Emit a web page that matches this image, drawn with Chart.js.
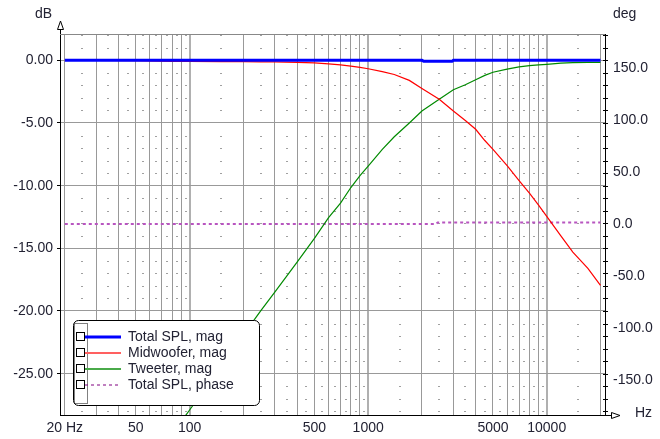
<!doctype html>
<html>
<head>
    <meta charset="utf-8">
    <title>Crossover response</title>
    <script src="https://cdn.jsdelivr.net/npm/chart.js"></script>
    <style>
        html, body { margin: 0; padding: 0; background: #fff; }
    </style>
</head>
<body>
    <canvas id="myChart" width="660" height="439"></canvas>

    <script>
        // x axis: gridline frequencies and labelled ones
        var gridFreqs = [20, 30, 40, 50, 60, 70, 80, 90, 100, 200, 300, 400, 500, 600, 700, 800, 900,
                         1000, 2000, 3000, 4000, 5000, 6000, 7000, 8000, 9000, 10000, 20000];
        var labeledFreqs = [20, 50, 100, 500, 1000, 5000, 10000];
        var freqTickLabels = ['20 Hz', '50', '100', '500', '1000', '5000', '10000'];
        var dbTicks = [0, -5, -10, -15, -20, -25];
        var degTicks = [150, 100, 50, 0, -50, -100, -150];

        // driver responses (Hz / dB)
        var freqs = [20, 30, 50, 80, 100, 150, 200, 250, 300, 400, 500, 600, 700, 800, 900, 1000,
                     1200, 1400, 1700, 2000, 2500, 3000, 3500, 4000, 4500, 5000, 6000, 7000, 8000,
                     9000, 10000, 12000, 14000, 17000, 20000];
        var midwooferMag = [0, 0, -0.03, -0.08, -0.09, -0.1, -0.11, -0.12, -0.13, -0.16, -0.2, -0.28,
                            -0.37, -0.46, -0.56, -0.67, -0.9, -1.13, -1.6, -2.25, -3.1, -4.05, -4.8,
                            -5.5, -6.4, -7.1, -8.4, -9.6, -10.6, -11.55, -12.45, -14.0, -15.3, -16.6, -17.95];
        var tweeterMag = [null, null, null, -29.8, -27.9, -24.4, -21.9, -20.0, -18.5, -16.1, -14.2, -12.55,
                          -11.4, -10.15, -9.2, -8.45, -7.1, -6.1, -5.0, -4.05, -3.1, -2.35, -1.95,
                          -1.55, -1.2, -0.95, -0.7, -0.52, -0.43, -0.37, -0.32, -0.22, -0.19, -0.17, -0.16];

        // total response
        var splFreqs = [20, 2000, 2050, 2950, 3000, 20000];
        var splMag = [0, 0, -0.08, -0.08, 0, 0];
        var phaseFreqs = [20, 2400, 2450, 20000];
        var splPhase = [0, 0, 1.5, 1.5];

        function pts(xs, ys) {
            return xs.map(function (x, i) { return {x: x, y: ys[i]}; });
        }

        var FONT = {family: "'Liberation Sans', Arial, sans-serif", size: 14};
        var TXT = '#222233';

        // minor dots between gridlines, every 1 dB
        var overlay = {
            id: 'overlay',
            beforeDatasetsDraw: function (chart) {
                var c = chart.ctx, a = chart.chartArea;
                var xs = chart.scales.x, ys = chart.scales.y;
                c.save();
                c.fillStyle = '#a0a0a0';
                for (var i = 0; i < gridFreqs.length - 1; i++) {
                    var mid = (gridFreqs[i] + gridFreqs[i + 1]) / 2;
                    var px = Math.round(xs.getPixelForValue(mid));
                    for (var d = -28; d <= 2; d++) {
                        if (d % 5 === 0) continue;
                        var py = Math.round(ys.getPixelForValue(d));
                        c.fillRect(px - 1, py, 2, 1);
                    }
                }
                // top border
                c.strokeStyle = '#888';
                c.lineWidth = 1;
                c.beginPath();
                c.moveTo(a.left, a.top + 0.5);
                c.lineTo(a.right, a.top + 0.5);
                c.stroke();
                c.restore();
            },
            afterDraw: function (chart) {
                var c = chart.ctx, a = chart.chartArea;
                var ys = chart.scales.y;
                c.save();
                c.strokeStyle = '#000';
                c.lineWidth = 1;
                // left axis arrow
                var lx = a.left + 0.5;
                c.beginPath();
                c.moveTo(lx, a.top);
                c.lineTo(lx, 29);
                c.moveTo(lx, 21);
                c.lineTo(lx - 3, 29.5);
                c.lineTo(lx + 3, 29.5);
                c.closePath();
                c.stroke();
                // bottom axis arrow
                var by = a.bottom + 0.5;
                c.beginPath();
                c.moveTo(a.right, by);
                c.lineTo(612, by);
                c.moveTo(620, by);
                c.lineTo(611.5, by - 3);
                c.lineTo(611.5, by + 3);
                c.closePath();
                c.stroke();
                // right axis small ticks
                c.beginPath();
                for (var d = -28; d <= 2; d++) {
                    var py = Math.round(ys.getPixelForValue(d)) + 0.5;
                    c.moveTo(a.right - 2, py);
                    c.lineTo(a.right + 3, py);
                }
                c.stroke();

                // axis titles
                c.fillStyle = TXT;
                c.font = FONT.size + 'px ' + FONT.family;
                c.textBaseline = 'middle';
                c.textAlign = 'left';
                c.fillText('dB', 35, 14);
                c.fillText('deg', 613, 14);
                c.fillText('Hz', 635, 413);

                // legend box
                var bx = 73.5, bt = 320.5, bw = 186, bh = 85;
                c.beginPath();
                c.roundRect(bx, bt, bw, bh, 5);
                c.fillStyle = '#fff';
                c.fill();
                c.strokeStyle = '#000';
                c.stroke();
                c.setLineDash([1, 1]);
                c.strokeRect(74.5, 323.5, 13, 80);
                c.setLineDash([]);
                chart.data.datasets.forEach(function (ds, i) {
                    var cy = 337 + i * 16;
                    c.strokeStyle = '#000';
                    c.lineWidth = 1;
                    c.strokeRect(76.5, cy - 4.5, 8, 8);
                    c.strokeStyle = ds.legendColor;
                    c.lineWidth = ds.legendWidth;
                    c.setLineDash(ds.borderDash || []);
                    c.beginPath();
                    c.moveTo(85, cy);
                    c.lineTo(121, cy);
                    c.stroke();
                    c.setLineDash([]);
                    c.fillStyle = TXT;
                    c.fillText(ds.label, 128, cy);
                });
                c.restore();
            }
        };

        var ctx = document.getElementById('myChart').getContext('2d');
        var chart = new Chart(ctx, {
            type: 'line',
            data: {
                datasets: [{
                    label: 'Total SPL, mag',
                    data: pts(splFreqs, splMag),
                    borderColor: '#0000ff',
                    borderWidth: 3,
                    legendColor: '#0000ff',
                    legendWidth: 3,
                    yAxisID: 'y',
                    order: 0
                }, {
                    label: 'Midwoofer, mag',
                    data: pts(freqs, midwooferMag),
                    borderColor: '#ff0000',
                    borderWidth: 1.2,
                    legendColor: '#ff6060',
                    legendWidth: 2,
                    yAxisID: 'y',
                    order: 1
                }, {
                    label: 'Tweeter, mag',
                    data: pts(freqs, tweeterMag),
                    borderColor: '#008a00',
                    borderWidth: 1.2,
                    legendColor: '#4aaa4a',
                    legendWidth: 2,
                    yAxisID: 'y',
                    order: 2
                }, {
                    label: 'Total SPL, phase',
                    data: pts(phaseFreqs, splPhase),
                    borderColor: '#b855c0',
                    borderWidth: 2,
                    borderDash: [3, 3],
                    legendColor: '#800080',
                    legendWidth: 1,
                    yAxisID: 'y2',
                    order: 3
                }]
            },
            options: {
                responsive: false,
                devicePixelRatio: 1,
                animation: false,
                layout: {padding: {top: 34, left: 0, right: 0, bottom: 0}},
                elements: {
                    point: {radius: 0},
                    line: {tension: 0, fill: false}
                },
                plugins: {
                    legend: {display: false},
                    tooltip: {enabled: false}
                },
                scales: {
                    x: {
                        type: 'logarithmic',
                        position: 'bottom',
                        min: 18.8,
                        max: 21200,
                        afterBuildTicks: function (s) {
                            s.ticks = gridFreqs.map(function (v) { return {value: v}; });
                        },
                        afterFit: function (s) { s.height = 24; },
                        ticks: {
                            autoSkip: false,
                            maxRotation: 0,
                            minRotation: 0,
                            padding: 5,
                            color: TXT,
                            font: FONT,
                            callback: function (v) {
                                var i = labeledFreqs.indexOf(v);
                                return i >= 0 ? freqTickLabels[i] : '';
                            }
                        },
                        grid: {
                            drawTicks: false,
                            color: function (c) {
                                var v = c.tick && c.tick.value;
                                return (v === 100 || v === 1000 || v === 10000) ? '#b0b0b0' : '#999999';
                            },
                            lineWidth: function (c) {
                                var v = c.tick && c.tick.value;
                                return (v === 100 || v === 1000 || v === 10000) ? 2 : 1;
                            }
                        },
                        border: {color: '#000', width: 1}
                    },
                    y: {
                        type: 'linear',
                        position: 'left',
                        min: -28.3,
                        max: 2.1,
                        afterBuildTicks: function (s) {
                            s.ticks = dbTicks.map(function (v) { return {value: v}; });
                        },
                        afterFit: function (s) { s.width = 60; },
                        ticks: {
                            padding: 4,
                            color: TXT,
                            font: FONT,
                            callback: function (v) { return v.toFixed(2); }
                        },
                        grid: {color: '#999999', tickColor: '#000', tickLength: 3},
                        border: {color: '#000', width: 1}
                    },
                    y2: {
                        type: 'linear',
                        position: 'right',
                        min: -183.5,
                        max: 182.7,
                        afterBuildTicks: function (s) {
                            s.ticks = degTicks.map(function (v) { return {value: v}; });
                        },
                        afterFit: function (s) { s.width = 55; },
                        ticks: {
                            padding: 8,
                            color: TXT,
                            font: FONT,
                            callback: function (v) { return v.toFixed(1); }
                        },
                        grid: {drawOnChartArea: false, drawTicks: false},
                        border: {color: '#000', width: 1}
                    }
                }
            },
            plugins: [overlay]
        });
    </script>
</body>
</html>
